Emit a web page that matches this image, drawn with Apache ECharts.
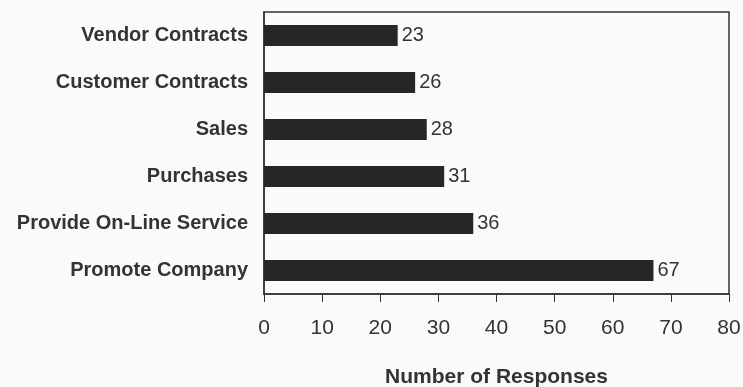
<!DOCTYPE html>
<html>
<head>
<meta charset="utf-8">
<script src="https://cdn.jsdelivr.net/npm/echarts@6/dist/echarts.min.js"></script>
<style>
  html, body { margin: 0; padding: 0; background: #fafafa; }
  #main { width: 743px; height: 387px; }
</style>
</head>
<body>
<div id="main"></div>
<script>
var categories = ['Promote Company', 'Provide On-Line Service', 'Purchases', 'Sales', 'Customer Contracts', 'Vendor Contracts'];
var responses = [67, 36, 31, 28, 26, 23];
var xTicks = [0, 10, 20, 30, 40, 50, 60, 70, 80];

var myChart = echarts.init(document.getElementById('main'));
myChart.setOption({
    backgroundColor: '#fafafa',
    animation: false,
    grid: {
        left: 264, right: 14, top: 12, bottom: 93,
        outerBoundsMode: 'none',
        containLabel: false,
        show: true, borderColor: '#333', borderWidth: 1.5, backgroundColor: 'transparent'
    },
    xAxis: {
        type: 'value',
        min: xTicks[0],
        max: xTicks[xTicks.length - 1],
        interval: 10,
        splitLine: { show: false },
        axisLine: { show: true, lineStyle: { color: '#333', width: 1.5 } },
        axisTick: { show: true, inside: false, length: 8, lineStyle: { color: '#333' } },
        axisLabel: { margin: 24, color: '#333', fontSize: 21, fontFamily: 'Liberation Sans' },
        name: 'Number of Responses',
        nameLocation: 'middle',
        nameGap: 73,
        nameTextStyle: { color: '#333', fontSize: 21, fontWeight: 'bold', fontFamily: 'Liberation Sans' }
    },
    yAxis: {
        type: 'category',
        data: categories,
        axisLine: { show: true, lineStyle: { color: '#333', width: 1.5 } },
        axisTick: { show: false },
        axisLabel: { margin: 16, color: '#333', fontSize: 20, fontWeight: 'bold', fontFamily: 'Liberation Sans' }
    },
    series: [{
        type: 'bar',
        data: responses,
        barWidth: '45%',
        itemStyle: { color: '#262626' },
        label: {
            show: true, position: 'right', distance: 4,
            color: '#333', fontSize: 20, fontFamily: 'Liberation Sans'
        }
    }]
});
</script>
</body>
</html>
